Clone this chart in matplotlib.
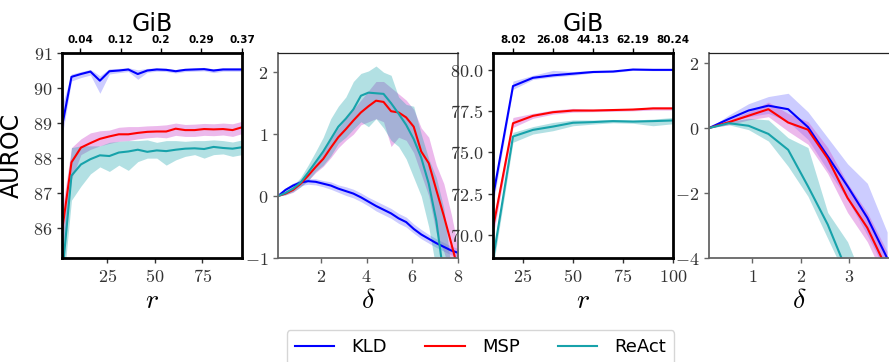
import matplotlib
matplotlib.use("Agg")
import matplotlib.pyplot as plt

plt.rcParams.update({"mathtext.fontset": "cm", "font.family": "DejaVu Sans"})

# ---------------- data ----------------
methods = ["KLD", "MSP", "ReAct"]

# Panel 1 : AUROC vs r (small model)
r1 = [1, 6, 11, 16, 21, 26, 31, 36, 41, 46, 51, 56, 61, 66, 71, 76, 81, 86, 91, 96]
kld1 = [88.9, 90.32, 90.4, 90.47, 90.21, 90.48, 90.5, 90.53, 90.4, 90.5, 90.53, 90.52, 90.48, 90.52, 90.53, 90.54, 90.5, 90.53, 90.53, 90.53]
kld1_lo = [88.6, 90.2, 90.3, 90.37, 89.85, 90.4, 90.44, 90.47, 90.25, 90.45, 90.48, 90.47, 90.43, 90.47, 90.48, 90.49, 90.44, 90.48, 90.48, 90.48]
kld1_hi = [89.5, 90.4, 90.47, 90.53, 90.35, 90.55, 90.56, 90.58, 90.52, 90.56, 90.58, 90.56, 90.53, 90.56, 90.58, 90.59, 90.55, 90.58, 90.58, 90.58]
msp1 = [85.9, 87.88, 88.3, 88.43, 88.55, 88.62, 88.68, 88.68, 88.72, 88.75, 88.76, 88.76, 88.84, 88.8, 88.8, 88.83, 88.82, 88.83, 88.8, 88.88]
msp1_lo = [85.2, 87.4, 88.1, 88.25, 88.35, 88.42, 88.48, 88.5, 88.55, 88.58, 88.6, 88.58, 88.65, 88.62, 88.62, 88.65, 88.64, 88.66, 88.62, 88.7]
msp1_hi = [86.5, 88.3, 88.55, 88.72, 88.78, 88.8, 88.88, 88.9, 88.9, 88.92, 88.93, 88.95, 89.0, 88.96, 88.97, 88.99, 88.98, 89.0, 88.98, 89.05]
react1 = [84.6, 87.5, 87.82, 87.97, 88.08, 88.06, 88.16, 88.19, 88.24, 88.18, 88.22, 88.2, 88.24, 88.27, 88.28, 88.26, 88.32, 88.29, 88.27, 88.31]
react1_lo = [84.0, 86.8, 87.2, 87.55, 87.75, 87.62, 87.8, 87.65, 87.9, 88.0, 88.0, 87.8, 87.95, 88.05, 88.1, 88.0, 88.1, 88.12, 88.05, 88.1]
react1_hi = [85.6, 88.3, 88.35, 88.35, 88.35, 88.45, 88.48, 88.5, 88.5, 88.52, 88.45, 88.5, 88.5, 88.48, 88.5, 88.5, 88.52, 88.5, 88.46, 88.52]
gib1_pos = [10.5, 31.9, 53.2, 74.6, 96]
gib1_lab = ["0.04", "0.12", "0.2", "0.29", "0.37"]

# Panel 2 : delta curves (small model)
d2 = [0.12, 0.45, 0.78, 1.11, 1.44, 1.77, 2.10, 2.43, 2.76, 3.09, 3.42, 3.75, 4.08, 4.41, 4.74, 5.07, 5.40, 5.73, 6.06, 6.39, 6.72, 7.05, 7.38, 7.71, 8.04]
kld2 = [0, 0.1, 0.17, 0.22, 0.24, 0.23, 0.2, 0.17, 0.12, 0.08, 0.04, -0.02, -0.09, -0.16, -0.22, -0.28, -0.36, -0.42, -0.53, -0.62, -0.69, -0.76, -0.82, -0.88, -0.92]
kld2_lo = [0, 0.06, 0.12, 0.17, 0.19, 0.18, 0.15, 0.11, 0.06, 0.01, -0.03, -0.09, -0.16, -0.24, -0.3, -0.36, -0.44, -0.5, -0.6, -0.69, -0.76, -0.83, -0.89, -0.95, -0.99]
kld2_hi = [0, 0.13, 0.21, 0.26, 0.28, 0.28, 0.25, 0.23, 0.18, 0.15, 0.11, 0.05, -0.02, -0.08, -0.14, -0.2, -0.28, -0.34, -0.45, -0.54, -0.62, -0.69, -0.75, -0.81, -0.85]
msp2 = [0, 0.04, 0.1, 0.2, 0.33, 0.47, 0.6, 0.78, 0.95, 1.08, 1.22, 1.35, 1.45, 1.54, 1.52, 1.37, 1.35, 1.27, 1.12, 0.72, 0.53, 0.1, -0.32, -0.77, -1.24]
msp2_lo = [0, 0.02, 0.06, 0.15, 0.25, 0.38, 0.48, 0.62, 0.78, 0.9, 1.0, 1.15, 1.2, 1.25, 1.2, 0.8, 0.95, 0.9, 0.7, 0.35, 0.0, -0.6, -0.9, -1.3, -1.6]
msp2_hi = [0, 0.06, 0.14, 0.25, 0.4, 0.55, 0.72, 0.92, 1.1, 1.25, 1.4, 1.55, 1.7, 1.85, 1.85, 1.75, 1.65, 1.55, 1.4, 1.1, 0.95, 0.5, 0.2, -0.3, -0.9]
react2 = [0, 0.05, 0.12, 0.22, 0.38, 0.55, 0.72, 0.92, 1.12, 1.25, 1.4, 1.62, 1.67, 1.66, 1.65, 1.5, 1.33, 1.15, 0.92, 0.62, 0.2, -0.4, -1.3, -2.0, -2.6]
react2_lo = [0, 0.02, 0.07, 0.15, 0.25, 0.4, 0.5, 0.65, 0.85, 0.95, 1.08, 1.2, 1.12, 1.25, 1.1, 0.9, 0.8, 0.6, 0.3, 0.0, -0.5, -1.2, -2.0, -2.6, -3.0]
react2_hi = [0, 0.08, 0.17, 0.3, 0.5, 0.72, 0.95, 1.25, 1.45, 1.6, 1.85, 1.98, 2.02, 2.1, 2.0, 1.95, 1.6, 1.48, 1.45, 1.0, 0.6, 0.3, -0.2, -1.2, -1.8]

# Panel 3 : AUROC vs r (large model)
r3 = [10, 20, 30, 40, 50, 60, 70, 80, 90, 100]
kld3 = [72.3, 79.0, 79.5, 79.65, 79.75, 79.85, 79.88, 80.0, 79.98, 79.98]
kld3_lo = [71.8, 78.8, 79.4, 79.55, 79.65, 79.8, 79.82, 79.95, 79.93, 79.93]
kld3_hi = [72.8, 79.3, 79.65, 79.95, 79.88, 79.95, 79.95, 80.05, 80.03, 80.03]
msp3 = [70.4, 76.75, 77.2, 77.42, 77.52, 77.52, 77.55, 77.58, 77.65, 77.65]
msp3_lo = [69.9, 76.5, 77.05, 77.3, 77.42, 77.45, 77.47, 77.5, 77.55, 77.55]
msp3_hi = [70.9, 77.1, 77.35, 77.55, 77.65, 77.6, 77.62, 77.65, 77.73, 77.73]
react3 = [68.5, 75.95, 76.35, 76.55, 76.78, 76.82, 76.88, 76.85, 76.88, 76.92]
react3_lo = [68.0, 75.6, 76.1, 76.3, 76.6, 76.7, 76.78, 76.75, 76.6, 76.72]
react3_hi = [69.0, 76.2, 76.55, 76.8, 76.95, 76.95, 76.98, 76.95, 77.0, 77.1]
gib3_pos = [20, 40, 60, 80, 100]
gib3_lab = ["8.02", "26.08", "44.13", "62.19", "80.24"]

# Panel 4 : delta curves (large model)
d4 = [0.1, 0.51, 0.92, 1.33, 1.74, 2.15, 2.56, 2.97, 3.38, 3.79]
kld4 = [0, 0.28, 0.54, 0.69, 0.58, 0.03, -0.87, -1.79, -2.76, -4.0]
kld4_lo = [0, 0.2, 0.35, 0.45, 0.2, -0.35, -1.3, -2.2, -3.3, -4.5]
kld4_hi = [0, 0.4, 0.75, 0.97, 1.07, 0.5, -0.3, -1.1, -1.7, -3.2]
msp4 = [0, 0.18, 0.38, 0.58, 0.17, -0.05, -0.94, -2.15, -3.07, -4.35]
msp4_lo = [0, 0.1, 0.25, 0.35, -0.1, -0.5, -1.4, -2.6, -3.5, -4.8]
msp4_hi = [0, 0.25, 0.5, 0.8, 0.45, 0.2, -0.6, -1.7, -2.6, -3.8]
react4 = [0, 0.15, 0.07, -0.18, -0.67, -1.79, -2.97, -4.45, -5.5, -6.5]
react4_lo = [0, 0.1, -0.05, -0.4, -1.18, -2.1, -3.4, -4.7, -6.0, -7.0]
react4_hi = [0, 0.2, 0.3, 0.25, -0.3, -0.6, -2.6, -3.5, -5.0, -6.0]

# ---------------- style ----------------
line_cols = ["#0000ff", "#ff0000", "#17a2aa"]
band_cols = ["#0000ff", "#d050d0", "#17a2aa"]
band_alpha = [0.2, 0.4, 0.33]

W, H = 889, 362
fig = plt.figure(figsize=(W / 100, H / 100), dpi=100)


def add(l, r, t, b):
    return fig.add_axes([l / W, 1 - b / H, (r - l) / W, (b - t) / H])


def plot_series(ax, x, ys, los, his):
    for y, lo, hi, bc, ba in zip(ys, los, his, band_cols, band_alpha):
        ax.fill_between(x, lo, hi, color=bc, alpha=ba, linewidth=0)
    lines = []
    for y, lc, name in zip(ys, line_cols, methods):
        ln, = ax.plot(x, y, color=lc, lw=1.5, label=name)
        lines.append(ln)
    return lines


def mlab(vals, fmt):
    return ["$" + fmt.format(v) + "$" for v in vals]


def style_main(ax):
    for s in ax.spines.values():
        s.set_color("black")
        s.set_linewidth(2)
    ax.tick_params(labelsize=13, colors="#333333", length=3.5, width=1)


def style_delta(ax):
    for k, s in ax.spines.items():
        s.set_color("#666666")
        s.set_linewidth(1.3)
    ax.spines["top"].set_color("#222222")
    ax.spines["top"].set_linewidth(0.9)
    ax.tick_params(labelsize=13, colors="#333333", length=3.5, width=1, color="#666666")


def add_gib(ax, pos, lab):
    top = ax.twiny()
    top.set_xlim(ax.get_xlim())
    top.set_xticks(pos, lab, fontsize=7.5, fontweight="bold", fontfamily="DejaVu Sans")
    top.tick_params(length=3.5, width=1, pad=2)
    for k, s in top.spines.items():
        s.set_visible(False)
    top.set_xlabel("GiB", fontsize=17, labelpad=3)


# Panel 1
ax1 = add(62, 242, 53, 258)
lines = plot_series(ax1, r1, [kld1, msp1, react1], [kld1_lo, msp1_lo, react1_lo], [kld1_hi, msp1_hi, react1_hi])
ax1.set_xlim(1, 96)
ax1.set_ylim(85.15, 91)
ax1.set_xticks([25, 50, 75], mlab([25, 50, 75], "{}"))
ax1.set_yticks([86, 87, 88, 89, 90, 91], mlab([86, 87, 88, 89, 90, 91], "{}"))
style_main(ax1)
ax1.set_xlabel("$r$", fontsize=20, labelpad=0)
ax1.set_ylabel("AUROC", fontsize=17, labelpad=6)
add_gib(ax1, gib1_pos, gib1_lab)

# Panel 2
ax2 = add(278, 458, 53, 258)
plot_series(ax2, d2, [kld2, msp2, react2], [kld2_lo, msp2_lo, react2_lo], [kld2_hi, msp2_hi, react2_hi])
ax2.set_xlim(0.12, 8)
ax2.set_ylim(-1, 2.31)
ax2.set_xticks([2, 4, 6, 8], mlab([2, 4, 6, 8], "{}"))
ax2.set_yticks([-1, 0, 1, 2], mlab([-1, 0, 1, 2], "{}"))
style_delta(ax2)
ax2.set_xlabel(r"$\delta$", fontsize=20, labelpad=0)

# Panel 3
ax3 = add(493, 673, 53, 258)
plot_series(ax3, r3, [kld3, msp3, react3], [kld3_lo, msp3_lo, react3_lo], [kld3_hi, msp3_hi, react3_hi])
ax3.set_xlim(10, 100)
ax3.set_ylim(68.6, 81.0)
ax3.set_xticks([25, 50, 75, 100], mlab([25, 50, 75, 100], "{}"))
ax3.set_yticks([70, 72.5, 75, 77.5, 80], mlab([70, 72.5, 75, 77.5, 80], "{:.1f}"))
style_main(ax3)
ax3.set_xlabel("$r$", fontsize=20, labelpad=0)
add_gib(ax3, gib3_pos, gib3_lab)

# Panel 4
ax4 = add(709, 890, 53, 258)
plot_series(ax4, d4, [kld4, msp4, react4], [kld4_lo, msp4_lo, react4_lo], [kld4_hi, msp4_hi, react4_hi])
ax4.set_xlim(0.1, 3.85)
ax4.set_ylim(-4, 2.31)
ax4.set_xticks([1, 2, 3], mlab([1, 2, 3], "{}"))
ax4.set_yticks([-4, -2, 0, 2], mlab([-4, -2, 0, 2], "{}"))
style_delta(ax4)
ax4.set_xlabel(r"$\delta$", fontsize=20, labelpad=0)

leg = fig.legend(lines, methods, loc="upper center", bbox_to_anchor=(480.5 / W, 1 - 330 / H),
                 ncol=3, fontsize=13, handlelength=2.2, handletextpad=0.95, columnspacing=2.1,
                 frameon=True, fancybox=True, edgecolor="#cccccc", borderpad=0.45,
                 borderaxespad=0)

fig.savefig("out.png", dpi=100)
